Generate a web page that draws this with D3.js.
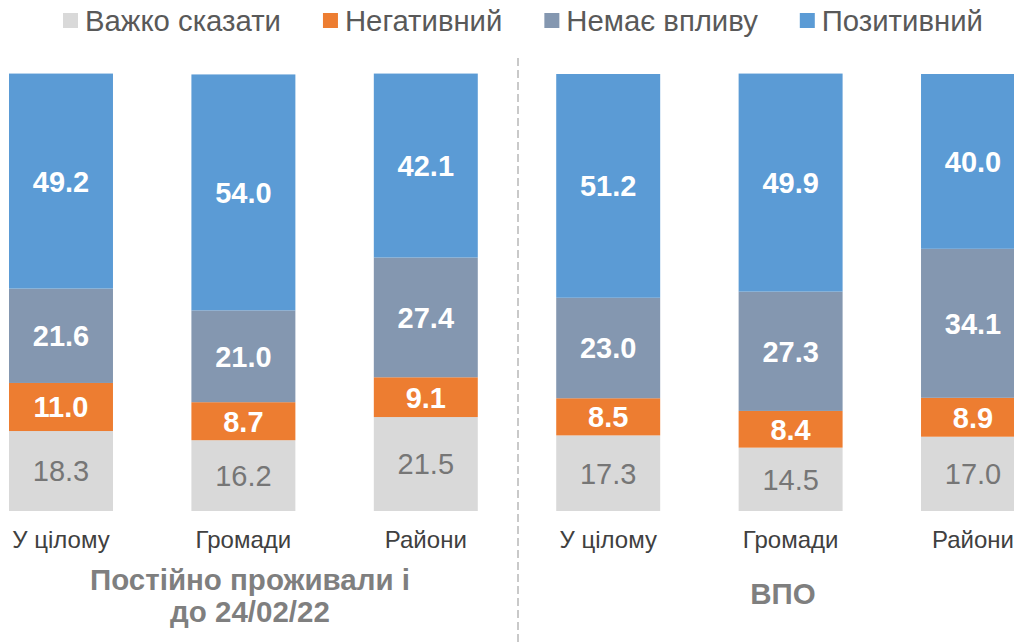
<!DOCTYPE html>
<html>
<head>
<meta charset="utf-8">
<script src="https://cdn.jsdelivr.net/npm/d3@7.9.0/dist/d3.min.js"></script>
<style>
  html, body { margin: 0; padding: 0; background: #fff; }
  svg { display: block; font-family: Arial, 'Liberation Sans', sans-serif; }
</style>
</head>
<body>
<svg id="chart"></svg>
<script>
const categories = ['У цілому', 'Громади', 'Райони', 'У цілому', 'Громади', 'Райони'];
const groupTitles = [['Постійно проживали і', 'до 24/02/22'], ['ВПО']];
const seriesNames = ['Важко сказати', 'Негативний', 'Немає впливу', 'Позитивний'];

const hardToSay = [18.3, 16.2, 21.5, 17.3, 14.5, 17.0];
const negative  = [11.0, 8.7, 9.1, 8.5, 8.4, 8.9];
const noImpact  = [21.6, 21.0, 27.4, 23.0, 27.3, 34.1];
const positive  = [49.2, 54.0, 42.1, 51.2, 49.9, 40.0];

const width = 1014;
const height = 644;
const colors = ['#d9d9d9', '#ed7d31', '#8497b0', '#5b9bd5'];
const labelColors = ['#767676', '#fff', '#fff', '#fff'];

const svg = d3.select('#chart')
  .attr('width', width)
  .attr('height', height);

// one row per bar, keyed by index (category names repeat)
const rows = categories.map((c, i) => ({
  i: i,
  name: c,
  [seriesNames[0]]: hardToSay[i],
  [seriesNames[1]]: negative[i],
  [seriesNames[2]]: noImpact[i],
  [seriesNames[3]]: positive[i]
}));

const stacked = d3.stack().keys(seriesNames)(rows);

// last bar runs off the right edge, like the source
const x = d3.scaleBand()
  .domain(rows.map(d => d.i))
  .range([9, 1025])
  .paddingInner(0.43)
  .paddingOuter(0);

const y = d3.scaleLinear()
  .domain([0, 100])
  .range([511, 74]);

// divider between the two groups
const divX = (x(2) + x.bandwidth() + x(3)) / 2 + 1;
svg.append('line')
  .attr('x1', divX).attr('x2', divX)
  .attr('y1', 58).attr('y2', height)
  .attr('stroke', '#c9c9c9')
  .attr('stroke-width', 2)
  .attr('stroke-dasharray', '8,4');

const layers = svg.append('g')
  .selectAll('g')
  .data(stacked)
  .join('g')
    .attr('fill', (d, k) => colors[k]);

layers.selectAll('rect')
  .data(d => d)
  .join('rect')
    .attr('x', d => x(d.data.i))
    .attr('y', d => y(d[1]))
    .attr('width', x.bandwidth())
    .attr('height', d => y(d[0]) - y(d[1]));

// value labels
stacked.forEach((layer, k) => {
  svg.append('g')
    .selectAll('text')
    .data(layer)
    .join('text')
      .attr('x', d => x(d.data.i) + x.bandwidth() / 2)
      .attr('y', d => (y(d[0]) + y(d[1])) / 2)
      .attr('dy', '0.36em')
      .attr('text-anchor', 'middle')
      .attr('font-size', 29)
      .attr('font-weight', k === 0 ? 'normal' : 'bold')
      .attr('fill', labelColors[k])
      .text(d => (d[1] - d[0]).toFixed(1));
});

// category axis labels
const xAxis = d3.axisBottom(x)
  .tickSize(0)
  .tickPadding(0)
  .tickFormat(i => categories[i]);

const axisG = svg.append('g')
  .attr('transform', 'translate(0, 511)')
  .call(xAxis);
axisG.select('.domain').remove();
axisG.selectAll('text')
  .attr('y', 37)
  .attr('dy', 0)
  .attr('font-family', 'Arial, Liberation Sans, sans-serif')
  .attr('font-size', 24)
  .attr('fill', '#404040');

// group titles
const titleX = [250, 783];
const titleY = [[590, 622], [604]];
groupTitles.forEach((lines, g) => {
  svg.append('text')
    .attr('text-anchor', 'middle')
    .attr('font-size', 29.5)
    .attr('font-weight', 'bold')
    .attr('fill', '#7f7f7f')
    .selectAll('tspan')
    .data(lines)
    .join('tspan')
      .attr('x', titleX[g])
      .attr('y', (d, j) => titleY[g][j])
      .text(d => d);
});

// legend
const legend = svg.append('g');
let lx = 63;
seriesNames.forEach((name, k) => {
  legend.append('rect')
    .attr('x', lx).attr('y', 13)
    .attr('width', 15).attr('height', 15)
    .attr('fill', colors[k]);
  const t = legend.append('text')
    .attr('x', lx + 22)
    .attr('y', 31)
    .attr('font-size', 29.3)
    .attr('fill', '#595959')
    .text(name);
  lx += 22 + t.node().getComputedTextLength() + 42;
});
</script>
</body>
</html>
